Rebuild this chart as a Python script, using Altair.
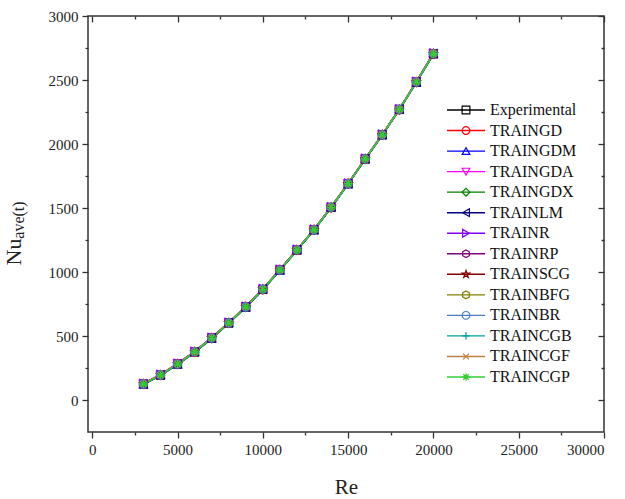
import altair as alt
import pandas as pd

# Reynolds numbers of the test runs
RE = [3000, 4000, 5000, 6000, 7000, 8000, 9000, 10000, 11000,
      12000, 13000, 14000, 15000, 16000, 17000, 18000, 19000, 20000]

# Average Nusselt number: measurement and each ANN training algorithm
EXPERIMENTAL = [125, 195, 281, 375, 484, 602, 727, 865, 1016, 1172, 1330, 1505, 1690, 1883, 2072, 2270, 2484, 2705]
TRAINGD = [128, 192, 285, 372, 488, 598, 731, 861, 1020, 1168, 1334, 1501, 1694, 1879, 2076, 2266, 2488, 2700]
TRAINGDM = [121, 199, 278, 379, 481, 606, 723, 869, 1012, 1176, 1326, 1509, 1686, 1887, 2068, 2274, 2480, 2711]
TRAINGDA = [127, 197, 284, 377, 487, 604, 730, 867, 1019, 1174, 1333, 1507, 1693, 1885, 2075, 2272, 2487, 2708]
TRAINGDX = [123, 193, 279, 373, 482, 600, 725, 863, 1014, 1170, 1328, 1503, 1688, 1881, 2070, 2268, 2482, 2702]
TRAINLM = [125, 196, 282, 376, 485, 603, 728, 866, 1017, 1173, 1331, 1506, 1691, 1884, 2073, 2271, 2485, 2706]
TRAINR = [130, 200, 286, 380, 489, 607, 732, 870, 1021, 1177, 1335, 1510, 1695, 1888, 2077, 2275, 2489, 2712]
TRAINRP = [120, 190, 276, 370, 479, 597, 722, 860, 1011, 1167, 1325, 1500, 1685, 1878, 2067, 2265, 2479, 2698]
TRAINSCG = [124, 194, 280, 374, 483, 601, 726, 864, 1015, 1171, 1329, 1504, 1689, 1882, 2071, 2269, 2483, 2704]
TRAINBFG = [126, 196, 282, 376, 485, 603, 728, 866, 1017, 1173, 1331, 1506, 1691, 1884, 2073, 2271, 2485, 2707]
TRAINBR = [125, 195, 281, 375, 484, 602, 727, 865, 1016, 1172, 1330, 1505, 1690, 1883, 2072, 2270, 2484, 2705]
TRAINCGB = [122, 192, 278, 372, 481, 599, 724, 862, 1013, 1169, 1327, 1502, 1687, 1880, 2069, 2267, 2481, 2701]
TRAINCGF = [128, 198, 284, 378, 487, 605, 730, 868, 1019, 1175, 1333, 1508, 1693, 1886, 2075, 2273, 2487, 2709]
TRAINCGP = [125, 195, 281, 375, 484, 602, 727, 865, 1016, 1172, 1330, 1505, 1690, 1883, 2072, 2270, 2484, 2705]

SERIES = ["Experimental", "TRAINGD", "TRAINGDM", "TRAINGDA", "TRAINGDX", "TRAINLM", "TRAINR",
          "TRAINRP", "TRAINSCG", "TRAINBFG", "TRAINBR", "TRAINCGB", "TRAINCGF", "TRAINCGP"]
VALUES = [EXPERIMENTAL, TRAINGD, TRAINGDM, TRAINGDA, TRAINGDX, TRAINLM, TRAINR,
          TRAINRP, TRAINSCG, TRAINBFG, TRAINBR, TRAINCGB, TRAINCGF, TRAINCGP]

COLORS = ["#000000", "#ff0000", "#0000ff", "#ff00ff", "#008000", "#000080", "#8000ff",
          "#800080", "#800000", "#808000", "#4a7fc0", "#00a0a0", "#c08040", "#33cc33"]

HEXAGON = "M0,-1L0.866,-0.5L0.866,0.5L0,1L-0.866,0.5L-0.866,-0.5Z"
STAR = ("M0,-1L0.2245,-0.309L0.9511,-0.309L0.3633,0.118L0.5878,0.809L0,0.382"
        "L-0.5878,0.809L-0.3633,0.118L-0.9511,-0.309L-0.2245,-0.309Z")
PLUS = "M-1,0L1,0M0,-1L0,1"
XMARK = "M-0.75,-0.75L0.75,0.75M-0.75,0.75L0.75,-0.75"
ASTERISK = "M-1,0L1,0M0,-1L0,1M-0.7,-0.7L0.7,0.7M-0.7,0.7L0.7,-0.7"
SHAPES = ["square", "circle", "triangle-up", "triangle-down", "diamond", "triangle-left",
          "triangle-right", HEXAGON, STAR, HEXAGON, "circle", PLUS, XMARK, ASTERISK]

FONT = "Liberation Serif"
INK = "#222222"

rows = []
for k, (name, vals) in enumerate(zip(SERIES, VALUES)):
    for re, nu in zip(RE, vals):
        rows.append({"series": name, "k": k, "Re": re, "Nu": nu})
df = pd.DataFrame(rows)
legend_df = pd.DataFrame({"series": SERIES, "k": list(range(len(SERIES)))})

color = alt.Color("series:N", scale=alt.Scale(domain=SERIES, range=COLORS), legend=None)
shape = alt.Shape("series:N", scale=alt.Scale(domain=SERIES, range=SHAPES), legend=None)

x_scale = alt.Scale(domain=[-250, 30000], nice=False, zero=False)
y_scale = alt.Scale(domain=[-250, 3000], nice=False, zero=False)

x_ticks = list(range(0, 30001, 2500))
y_ticks = list(range(0, 3001, 250))
x_major = "datum.value % 5000 === 0"
y_major = "datum.value % 500 === 0"


def outer_axis(orient, ticks, major, title):
    return alt.Axis(
        orient=orient, values=ticks, format="d", grid=False, domain=False,
        labelExpr=f"{major} ? datum.label : ''", labelOverlap=False,
        labelFont=FONT, labelFontSize=15, labelColor=INK, labelPadding=4,
        tickColor="#333333", tickWidth=1.3,
        tickSize={"condition": {"test": major, "value": 6}, "value": 3},
        title=title, titleFont=FONT, titleFontSize=21, titleFontWeight="normal",
        titleColor=INK, titlePadding=19,
    )


def inner_axis(orient, ticks, major):
    return alt.Axis(
        orient=orient, values=ticks, grid=False, domain=False, labels=False,
        title=None, offset=-6, tickSize=6, tickColor="#333333", tickWidth=1.3,
        tickDash={"condition": {"test": major, "value": [6, 0]}, "value": [0, 3, 3, 0]},
    )


lines = alt.Chart(df).mark_line(strokeWidth=1.4).encode(
    x=alt.X("Re:Q", scale=x_scale, axis=outer_axis("bottom", x_ticks, x_major, "Re")),
    y=alt.Y("Nu:Q", scale=y_scale, axis=outer_axis("left", y_ticks, y_major, None)),
    color=color,
    detail="series:N",
    order="Re:Q",
)

points = alt.Chart(df).mark_point(filled=False, size=62, strokeWidth=1.3, opacity=1).encode(
    x=alt.X("Re:Q", scale=x_scale, axis=inner_axis("top", x_ticks, x_major)),
    y=alt.Y("Nu:Q", scale=y_scale, axis=inner_axis("right", y_ticks, y_major)),
    color=color,
    shape=shape,
    order="k:Q",
)

plot = alt.layer(lines, points).resolve_axis(x="independent", y="independent")

# Legend drawn inside the frame: line sample, marker and name per row
row_y = alt.Y("series:N", scale=alt.Scale(type="point", domain=SERIES, range=[94, 361], padding=0), axis=None)
leg_lines = alt.Chart(legend_df).mark_rule(strokeWidth=1.4).encode(
    x=alt.value(359), x2=alt.value(397), y=row_y, color=color)
leg_points = alt.Chart(legend_df).mark_point(filled=False, size=60, strokeWidth=1.2, opacity=1).encode(
    x=alt.value(378), y=row_y, color=color, shape=shape)
leg_text = alt.Chart(legend_df).mark_text(align="left", baseline="middle", font=FONT,
                                          fontSize=16, color="#111111").encode(
    x=alt.value(402), y=row_y, text="series:N")

# Y axis title: Nu with subscript ave(t)
one = pd.DataFrame({"t": [0]})
nu_title = alt.Chart(one).mark_text(text="Nu", angle=270, font=FONT, fontSize=22, color=INK,
                                    align="center", baseline="middle").encode(
    x=alt.value(-74), y=alt.value(236))
sub_title = alt.Chart(one).mark_text(text="ave(t)", angle=270, font=FONT, fontSize=16, color=INK,
                                     align="center", baseline="middle").encode(
    x=alt.value(-69), y=alt.value(204))

legend = alt.layer(leg_lines, leg_points, leg_text, nu_title, sub_title)

chart = alt.layer(plot, legend).resolve_scale(y="independent").properties(
    width=516, height=416,
    padding={"left": 88, "top": 16, "right": 21, "bottom": 67},
    autosize=alt.AutoSizeParams(type="none"),
    background="white",
).configure_view(
    stroke="#333333", strokeWidth=1.5
).configure_axis(
    labelFont=FONT, titleFont=FONT
).configure_text(font=FONT)

chart.save("out.html", embed_options={"renderer": "svg", "actions": False})
